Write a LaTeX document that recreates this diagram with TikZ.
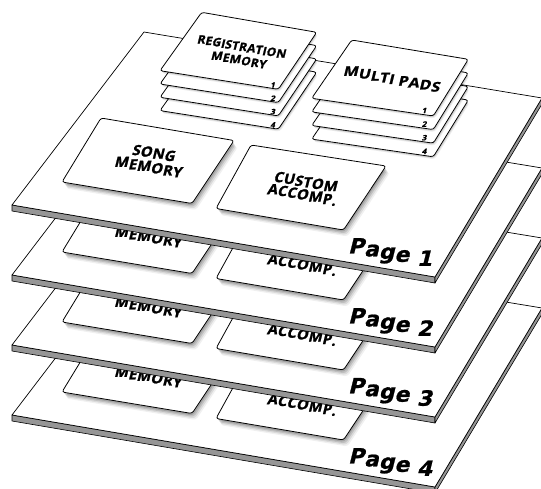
\documentclass[tikz,border=0pt]{standalone}
\usepackage{fontspec}
\usepackage{graphicx}
\newfontfamily\cardfont[FakeSlant=0.25,FakeStretch=1.06,FakeBold=1.5]{Open Sans}
\newfontfamily\mpfont[FakeSlant=0.25,FakeStretch=1.2,FakeBold=1.5]{Open Sans}
\newfontfamily\pagefont[FakeSlant=0.25,FakeStretch=1.04,FakeBold=1]{DejaVu Sans}
\definecolor{slabgray}{RGB}{150,150,150}
\tikzset{
  pageface/.style={fill=white,draw=black,line width=0.7pt,line join=round},
  slabface/.style={fill=slabgray,draw=black,line width=0.6pt,line join=round},
  cardface/.style={fill=white,draw=black,line width=0.8pt,rounded corners=2.5pt},
  bigcardtext/.style={inner sep=0pt,font=\cardfont\bfseries\fontsize{14}{15}\selectfont},
  regtext/.style={inner sep=0pt,font=\cardfont\bfseries\fontsize{11.5}{14}\selectfont},
  mptext/.style={inner sep=0pt,font=\mpfont\bfseries\fontsize{13.3}{15}\selectfont},
  numlabel/.style={inner sep=0pt,font=\cardfont\bfseries\fontsize{7.5}{7.5}\selectfont},
  pagelabel/.style={inner sep=0pt,font=\pagefont\bfseries\fontsize{21}{21}\selectfont}
}
% a line of text whose baseline falls to the right, as on the tilted cards
\makeatletter
\newdimen\tiltcum
\newcommand\tiltline[1]{\tiltcum=0pt\relax
  \@tfor\tilt@c:=#1\do{%
    \setbox0=\hbox{\tilt@c}%
    \dimen0=\wd0\relax
    \raisebox{-0.18\tiltcum}{\box0}%
    \advance\tiltcum by \dimen0\relax}}
\makeatother
% card with soft shadow: four corners
\newcommand\shcard[4]{%
  \foreach \sx/\sy/\so in {4/6.5/0.06,3/5/0.09,2/3.5/0.12,1/2/0.15}{%
    \fill[black,opacity=\so,rounded corners=3pt,shift={(\sx,\sy)}] #1 -- #2 -- #3 -- #4 -- cycle;}%
  \path[cardface] #1 -- #2 -- #3 -- #4 -- cycle;}
\newcommand\stcard[4]{%
  \foreach \sx/\sy/\so in {1.5/2.5/0.08,0.8/1.5/0.12}{%
    \fill[black,opacity=\so,rounded corners=3pt,shift={(\sx,\sy)}] #1 -- #2 -- #3 -- #4 -- cycle;}%
  \path[cardface] #1 -- #2 -- #3 -- #4 -- cycle;}
\newcommand\onepage[2]{%
\begin{scope}[shift={(0,#1)}]
  \path[slabface] (12,205) -- (435,277) -- (435,283) -- (12,211) -- cycle;
  \path[slabface] (435,277) -- (542,98) -- (542,104) -- (435,283) -- cycle;
  \path[pageface] (12,205) -- (144,32) -- (542,98) -- (435,277) -- cycle;
  \shcard{(101,118)}{(234,140.5)}{(192,203.5)}{(62,182)}
  \shcard{(251,145)}{(386,166)}{(343.5,230)}{(216,208.5)}
  \ifnum#2=1
    \node[bigcardtext] (songa#2) at (153,153) {\tiltline{SONG}};
    \node[bigcardtext] (custa#2) at (305,181.5) {\tiltline{CUSTOM}};
  \fi
  \node[bigcardtext] (songb#2) at (147.5,167) {\tiltline{MEMORY}};
  \node[bigcardtext] (custb#2) at (301,195) {\tiltline{ACCOMP.}};
  \node[pagelabel] (page#2) at (390,252) {\tiltline{Page\space #2}};
\end{scope}}
\begin{document}
\begin{tikzpicture}[x=1pt,y=-1pt]
\useasboundingbox (0,0) rectangle (541,488);
\clip (0,0) rectangle (541,488);
\onepage{210}{4}
\onepage{140}{3}
\onepage{70}{2}
\onepage{0}{1}
% registration memory stack
\foreach \k in {4,3,2,1}{
  \begin{scope}[shift={(0,{13.3*(\k-1)})}]
    \stcard{(201.7,12.3)}{(316.7,32.3)}{(278.3,89.3)}{(160,70.7)}
    \node[numlabel] (regn\k) at (272.5,85) {\k};
  \end{scope}}
\node[regtext] (rega) at (241,46.5) {\tiltline{REGISTRATION}};
\node[regtext] (regb) at (238,60) {\tiltline{MEMORY}};
% multi pads stack
\foreach \k in {4,3,2,1}{
  \begin{scope}[shift={(0,{13.6*(\k-1)})}]
    \stcard{(351.7,40)}{(468.3,59.3)}{(433.3,116)}{(311.7,98.3)}
    \node[numlabel] (mpn\k) at (424,110.5) {\k};
  \end{scope}}
\node[mptext] (mplbl) at (391,79) {\tiltline{MULTI\space PADS}};
\end{tikzpicture}
\end{document}
